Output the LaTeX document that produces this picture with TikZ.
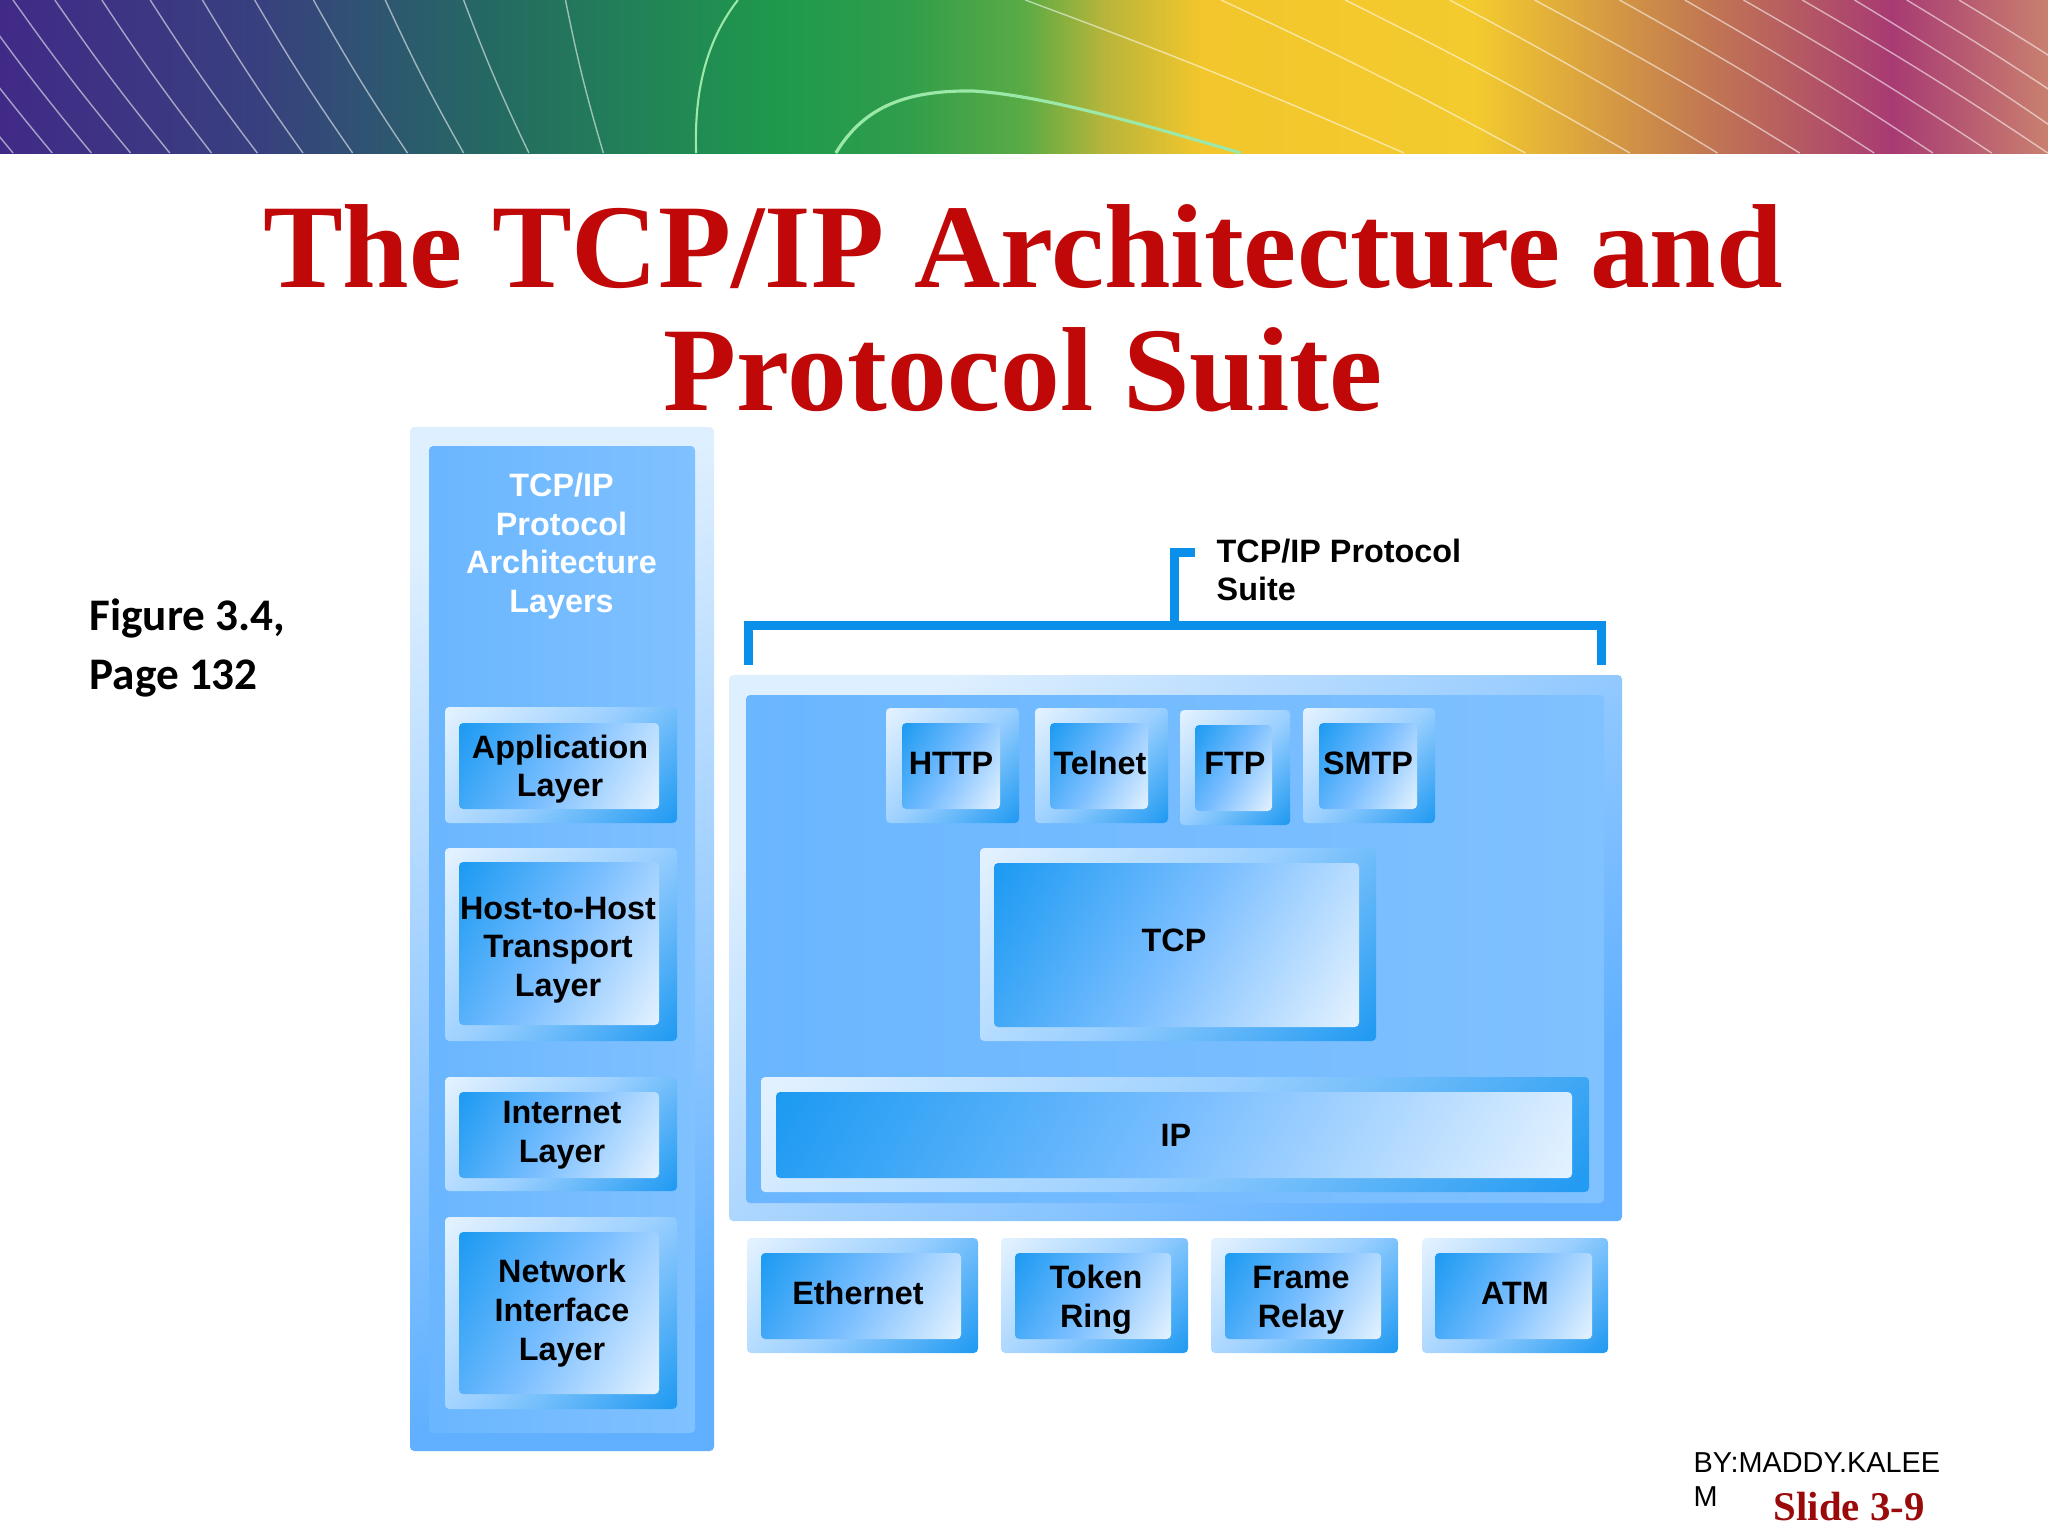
\documentclass[tikz,border=0pt]{standalone}
\usepackage{fontspec}
\setmainfont{Liberation Sans}
\newfontfamily\serifbold{Liberation Serif}
\newfontfamily\figfont{Carlito}
\usetikzlibrary{positioning,calc,fit}
\definecolor{titlered}{HTML}{C00808}
\definecolor{sliderd}{HTML}{9B0A0A}
\definecolor{bracketblue}{HTML}{0A8FEA}
\definecolor{stripa}{HTML}{412A87}
\definecolor{stripb}{HTML}{38407F}
\definecolor{stripc}{HTML}{246A62}
\definecolor{stripd}{HTML}{1F9A4C}
\definecolor{stripe}{HTML}{2F9D4B}
\definecolor{stripf}{HTML}{5AAB45}
\definecolor{stripg}{HTML}{B9B53A}
\definecolor{striph}{HTML}{F2C62C}
\definecolor{stripi}{HTML}{F3CB2E}
\definecolor{stripj}{HTML}{C57F4E}
\definecolor{stripk}{HTML}{A83A73}
\definecolor{stripl}{HTML}{C9806F}
\definecolor{outa}{HTML}{E2F1FF}
\definecolor{outb}{HTML}{9CD0FF}
\definecolor{outc}{HTML}{239BF2}
\definecolor{ina}{HTML}{1C9AF2}
\definecolor{inb}{HTML}{7ABEFF}
\definecolor{inc}{HTML}{E4F2FF}
\definecolor{pana}{HTML}{DEEFFF}
\definecolor{panb}{HTML}{60B0FF}
\definecolor{panc}{HTML}{6AB6FF}
\definecolor{pand}{HTML}{80C1FF}
\definecolor{curvegreen}{HTML}{9BE8A8}
\pgfdeclarehorizontalshading{stripshade}{100bp}{color(0bp)=(stripa);color(25bp)=(stripa);color(31.35bp)=(stripb);color(37.1bp)=(stripc);color(44.1bp)=(stripd);color(47bp)=(stripe);color(50bp)=(stripf);color(52bp)=(stripg);color(54.3bp)=(striph);color(61bp)=(stripi);color(66.1bp)=(stripj);color(71.2bp)=(stripk);color(75bp)=(stripl);color(100bp)=(stripl)}
\pgfdeclareverticalshading{outshade}{100bp}{color(0bp)=(outc);color(16bp)=(outc);color(50bp)=(outb);color(84bp)=(outa);color(100bp)=(outa)}
\pgfdeclareverticalshading{inshade}{100bp}{color(0bp)=(inc);color(16bp)=(inc);color(50bp)=(inb);color(84bp)=(ina);color(100bp)=(ina)}
\tikzset{
  boxbase/.style={inner sep=0pt,outer sep=0pt,rounded corners=1.2pt},
  outerbox/.style={boxbase,shade,shading=outshade,shading angle=45},
  innerbox/.style={boxbase,shade,shading=inshade,shading angle=60},
  boxtext/.style={inner sep=0pt,align=center,text=black,font=\bfseries\fontsize{9.2}{11}\selectfont},
  panelout/.style={boxbase,left color=pana,right color=panb,shading angle=#1},
  panelin/.style={boxbase,left color=panc,right color=pand},
  bracket/.style={draw=bracketblue,line width=2.56pt},
  stripline/.style={white,opacity=0.55,line width=0.4pt},
  stripcurve/.style={curvegreen,line width=#1}
}
\begin{document}
\begin{tikzpicture}[x=0.01cm,y=-0.01cm]
          \useasboundingbox (0,0) rectangle (2048,1536);

          % header strip
          \shade[shading=stripshade] (0,0) rectangle (2048,153);
          \begin{scope}[xscale=1.306]
            \clip (0,0) rectangle (1568.2,153);
            \foreach \a/\b in {-80/10,-50/40,-20/70,10/100,42/130,78/162,115/197,155/232,195/270,240/312,295/355,355/405,433/462}
            {\draw[stripline] (\a,0) to[bend right=2] (\b,153);}
            \foreach \a/\b in {785/1075,935/1168,1030/1248,1110/1315,1175/1378,1240/1435,1290/1480,1335/1525,1380/1568,1420/1600,1460/1640,1500/1680}
            {\draw[stripline] (\a,0) to[bend left=2] (\b,153);}
            \draw[stripcurve=0.6pt] (565,0) .. controls (535,50) and (532,110) .. (533,153);
            \draw[stripcurve=0.9pt] (640,153) .. controls (660,110) and (690,90) .. (745,91) .. controls (800,95) and (890,130) .. (950,153);
          \end{scope}

          % title
          \node (title) [align=center,text=titlered,font=\serifbold\bfseries\fontsize{34}{35}\selectfont] at (1023,308)
            {The TCP/IP Architecture and\\Protocol Suite};

          % side note
          \node (figref) [align=left,anchor=west,inner sep=0pt,font=\figfont\bfseries\fontsize{12.85}{17}\selectfont] at (89,648) {Figure 3.4,\\Page 132};

          % panels
          \node (colout) [panelout=20,fit={(410,427) (714,1451)}] {};
          \node (colin) [panelin,fit={(429,446) (695,1433)}] {};
          \node (sutout) [panelout=40,fit={(729,675) (1622,1221)}] {};
          \node (sutin) [panelin,fit={(746,695) (1604,1203)}] {};

          % column heading
          \node (colhead) [boxtext,text=white] at (561.5,546)
            {TCP/IP\\Protocol\\Architecture\\Layers};

          % boxes
          \foreach \nm/\ax/\ay/\bx/\by/\cx/\cy/\dx/\dy/\tx/\ty/\txt in {
            app/445/707/677/823/459/723/659/809/560/769/{Application\\Layer},
            host/445/848/677/1041/459/862/659/1025/558/950/{Host-to-Host\\Transport\\Layer},
            inet/445/1077/677/1191/459/1092/659/1178/562/1135/{Internet\\Layer},
            netw/445/1217/677/1409/459/1232/659/1394/562/1313/{Network\\Interface\\Layer},
            http/886/708/1019/823/902/723/1000/809/951/763/{HTTP},
            telnet/1035/708/1168/823/1050/723/1148/809/1100/763/{Telnet},
            ftp/1180/710/1290/825/1195/725/1272/811/1235/763/{FTP},
            smtp/1303/708/1435/823/1319/723/1417/809/1368/763/{SMTP},
            tcp/980/848/1376/1041/994/863/1359/1027/1174/940/{TCP},
            ip/761/1077/1589/1192/776/1092/1572/1178/1176/1135/{IP},
            eth/747/1238/978/1353/761/1253/961/1339/858/1293/{Ethernet},
            token/1001/1238/1188/1353/1015/1253/1171/1339/1096/1300/{Token\\Ring},
            frame/1211/1238/1398/1353/1225/1253/1381/1339/1301/1300/{Frame\\Relay},
            atm/1422/1238/1608/1353/1435/1253/1592/1339/1515/1293/{ATM}}
          {\node (\nm-o) [outerbox,fit={(\ax,\ay) (\bx,\by)}] {};
           \node (\nm) [innerbox,fit={(\cx,\cy) (\dx,\dy)}] {};
           \node (\nm-t) [boxtext] at (\tx,\ty) {\txt};}

          % suite bracket
          \coordinate (brl) at (748.5,665);
          \coordinate (brr) at (1601.5,665);
          \coordinate (brm) at (1174,625.5);
          \coordinate (brt) at (1195,552);
          \draw[bracket] (brl) |- (brm) -| (brr);
          \draw[bracket] (brm) |- (brt);
          \node (suite) [boxtext,anchor=west,align=left] at (1216,570) {TCP/IP Protocol\\Suite};

          % footer
          \node (credit) [anchor=west,align=left,inner sep=0pt,font=\fontsize{8.2}{9.7}\selectfont] at (1693,1480) {BY:MADDY.KALEE\\M};
          \node (slide) [anchor=west,inner sep=0pt,text=sliderd,font=\serifbold\bfseries\fontsize{11.6}{13}\selectfont] at (1773,1507) {Slide 3-9};
\end{tikzpicture}
\end{document}
